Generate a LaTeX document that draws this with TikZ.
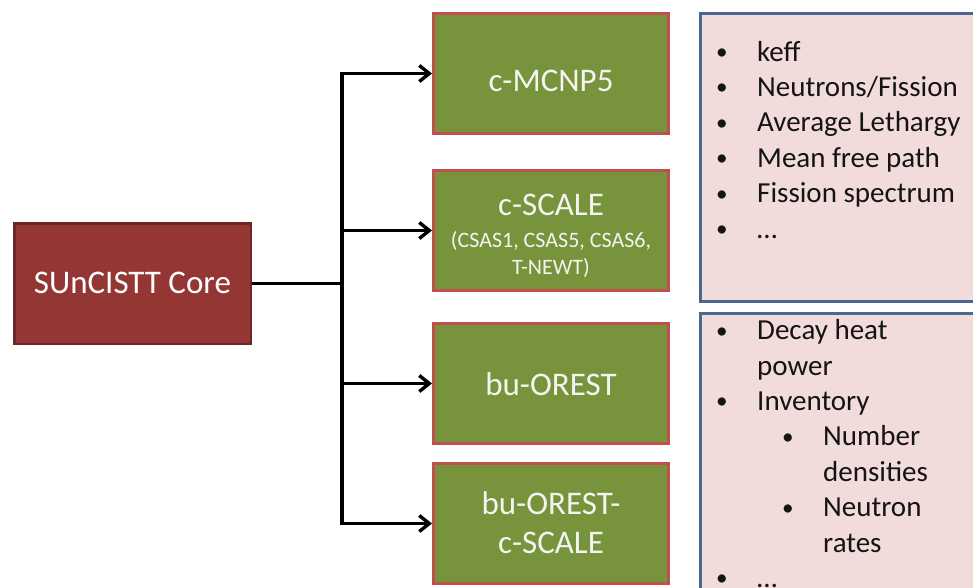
\documentclass[tikz,border=0pt]{standalone}
\usepackage{fontspec}
\usepackage{graphicx}
\setmainfont{Carlito}
\usetikzlibrary{arrows.meta}
\definecolor{coreFill}{HTML}{943634}
\definecolor{coreLine}{HTML}{6B2826}
\definecolor{greenFill}{HTML}{77933C}
\definecolor{greenLine}{HTML}{C0504D}
\definecolor{pinkFill}{HTML}{F2DCDB}
\definecolor{blueLine}{HTML}{4A6791}
\definecolor{boxText}{HTML}{F4F4F0}
\definecolor{listText}{HTML}{141414}
\newcommand\mybul{\makebox[41pt][l]{\raisebox{1.6pt}{\scalebox{0.8}{•}}}}
\begin{document}
\begin{tikzpicture}[x=1pt,y=-1pt,
  corebox/.style={draw=coreLine, fill=coreFill, line width=2.5pt,
    minimum width=236.5pt, minimum height=120.5pt, inner sep=0pt,
    text=white, font=\fontsize{33}{40}\selectfont},
  toolbox/.style={draw=greenLine, fill=greenFill, line width=3pt,
    minimum width=235pt, minimum height=120pt, inner sep=0pt,
    text=boxText, align=center, font=\fontsize{33}{38.5}\selectfont},
  listbox/.style={draw=blueLine, fill=pinkFill, line width=3pt,
    inner sep=0pt, minimum width=300pt},
  listtext/.style={anchor=base west, inner sep=0pt, align=left,
    text=listText, font=\fontsize{29}{35.4}\selectfont},
  conn/.style={line width=3.4pt, black},
  arr/.style={conn, -{Straight Barb[length=10pt,width=16pt]}}
]
\useasboundingbox (0,0) rectangle (973,588);
\clip (0,0) rectangle (973,588);

% core
\node[corebox, text height=20pt, text depth=0pt] (core) at (132.5,283.5) {SUnCISTT Core};

% tool boxes
\node[toolbox, text height=37pt, text depth=0pt] (m1) at (551,73.5) {c-MCNP5};
\node[toolbox, text height=88pt, text depth=0pt,
      font=\fontsize{22}{27.5}\selectfont] (m2) at (551,230.5)
  {{\fontsize{33}{40}\selectfont c-SCALE}\\[4.5pt](CSAS1, CSAS5, CSAS6,\\T-NEWT)};
\node[toolbox, text height=23pt, text depth=0pt] (m3) at (551,383.5) {bu-OREST};
\node[toolbox, text height=59pt, text depth=0pt] (m4) at (551,523.5) {bu-OREST-\\c-SCALE};

% result boxes
\node[listbox, minimum height=288pt] (resA) at (850.5,157.5) {};
\node[listbox, minimum height=306pt] (resB) at (850.5,466.5) {};

\node[listtext] (listA) at (716,238) {%
  \mybul keff\\
  \mybul Neutrons/Fission\\
  \mybul Average Lethargy\\
  \mybul Mean free path\\
  \mybul Fission spectrum\\
  \mybul …};
\node[listtext] (listB) at (716,587.5) {%
  \mybul Decay heat\\
  \hspace*{41pt}power\\
  \mybul Inventory\\
  \hspace*{66pt}\mybul Number\\
  \hspace*{107pt}densities\\
  \hspace*{66pt}\mybul Neutron\\
  \hspace*{107pt}rates\\
  \mybul …};

% connectors
\coordinate (bus) at (342,283.5);
\draw[conn] (core.east) -- (bus);
\draw[arr] (bus) |- (m1.west);
\draw[arr] (bus) |- (m2.west);
\draw[arr] (bus) |- (m3.west);
\draw[arr] (bus) |- (m4.west);
\end{tikzpicture}
\end{document}
